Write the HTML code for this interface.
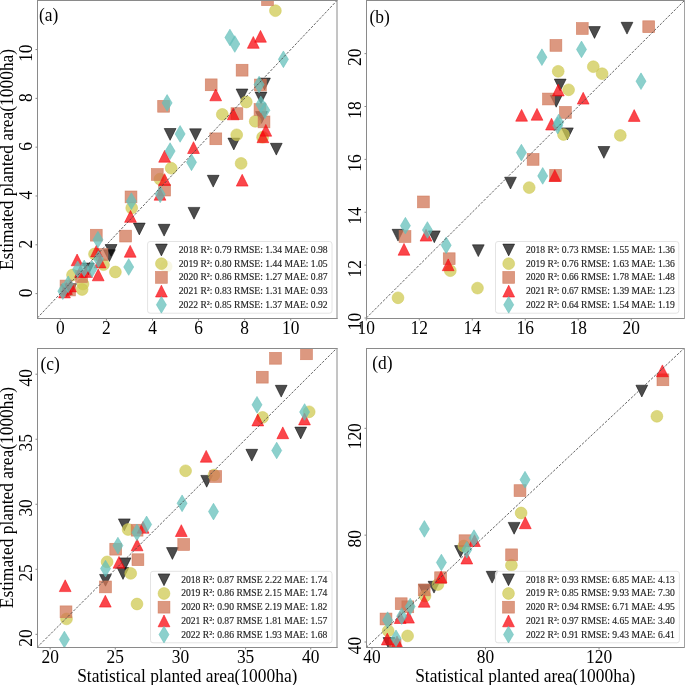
<!DOCTYPE html>
<html><head><meta charset="utf-8"><title>Scatter plots</title>
<style>
html,body{margin:0;padding:0;background:#fff;}
body{width:685px;height:685px;overflow:hidden;}
svg{display:block;font-family:"Liberation Serif", serif;will-change:transform;}
</style></head><body>
<svg width="685" height="685" viewBox="0 0 685 685">
<style>text{stroke:none;}text.lg{fill:#222;stroke:#222;stroke-width:0.15px;}</style>
<rect width="685" height="685" fill="#fff"/>
<defs>
<clipPath id="clipa"><rect x="37.50" y="0.50" width="299.50" height="318.00"/></clipPath>
<clipPath id="clipb"><rect x="366.50" y="0.50" width="317.50" height="318.00"/></clipPath>
<clipPath id="clipc"><rect x="37.50" y="348.50" width="299.50" height="299.00"/></clipPath>
<clipPath id="clipd"><rect x="366.50" y="348.50" width="317.50" height="299.00"/></clipPath>
</defs>
<g clip-path="url(#clipa)">
<polygon points="189.60,128.80 201.40,128.80 195.50,140.60" fill="rgb(0,0,0)" fill-opacity="0.700" stroke="rgb(0,0,0)" stroke-opacity="0.700" stroke-width="0.70"/>
<polygon points="236.10,89.00 247.90,89.00 242.00,100.80" fill="rgb(0,0,0)" fill-opacity="0.700" stroke="rgb(0,0,0)" stroke-opacity="0.700" stroke-width="0.70"/>
<polygon points="258.60,78.10 270.40,78.10 264.50,89.90" fill="rgb(0,0,0)" fill-opacity="0.700" stroke="rgb(0,0,0)" stroke-opacity="0.700" stroke-width="0.70"/>
<polygon points="255.10,92.10 266.90,92.10 261.00,103.90" fill="rgb(0,0,0)" fill-opacity="0.700" stroke="rgb(0,0,0)" stroke-opacity="0.700" stroke-width="0.70"/>
<polygon points="255.60,111.60 267.40,111.60 261.50,123.40" fill="rgb(0,0,0)" fill-opacity="0.700" stroke="rgb(0,0,0)" stroke-opacity="0.700" stroke-width="0.70"/>
<polygon points="227.90,138.10 239.70,138.10 233.80,149.90" fill="rgb(0,0,0)" fill-opacity="0.700" stroke="rgb(0,0,0)" stroke-opacity="0.700" stroke-width="0.70"/>
<polygon points="207.30,175.30 219.10,175.30 213.20,187.10" fill="rgb(0,0,0)" fill-opacity="0.700" stroke="rgb(0,0,0)" stroke-opacity="0.700" stroke-width="0.70"/>
<polygon points="270.40,143.30 282.20,143.30 276.30,155.10" fill="rgb(0,0,0)" fill-opacity="0.700" stroke="rgb(0,0,0)" stroke-opacity="0.700" stroke-width="0.70"/>
<polygon points="188.10,207.40 199.90,207.40 194.00,219.20" fill="rgb(0,0,0)" fill-opacity="0.700" stroke="rgb(0,0,0)" stroke-opacity="0.700" stroke-width="0.70"/>
<polygon points="164.20,128.50 176.00,128.50 170.10,140.30" fill="rgb(0,0,0)" fill-opacity="0.700" stroke="rgb(0,0,0)" stroke-opacity="0.700" stroke-width="0.70"/>
<polygon points="133.40,223.10 145.20,223.10 139.30,234.90" fill="rgb(0,0,0)" fill-opacity="0.700" stroke="rgb(0,0,0)" stroke-opacity="0.700" stroke-width="0.70"/>
<polygon points="158.20,224.30 170.00,224.30 164.10,236.10" fill="rgb(0,0,0)" fill-opacity="0.700" stroke="rgb(0,0,0)" stroke-opacity="0.700" stroke-width="0.70"/>
<polygon points="105.20,244.50 117.00,244.50 111.10,256.30" fill="rgb(0,0,0)" fill-opacity="0.700" stroke="rgb(0,0,0)" stroke-opacity="0.700" stroke-width="0.70"/>
<polygon points="103.50,249.70 115.30,249.70 109.40,261.50" fill="rgb(0,0,0)" fill-opacity="0.700" stroke="rgb(0,0,0)" stroke-opacity="0.700" stroke-width="0.70"/>
<polygon points="82.40,263.10 94.20,263.10 88.30,274.90" fill="rgb(0,0,0)" fill-opacity="0.700" stroke="rgb(0,0,0)" stroke-opacity="0.700" stroke-width="0.70"/>
<polygon points="60.80,284.80 72.60,284.80 66.70,296.60" fill="rgb(0,0,0)" fill-opacity="0.700" stroke="rgb(0,0,0)" stroke-opacity="0.700" stroke-width="0.70"/>
<polygon points="64.70,283.70 76.50,283.70 70.60,295.50" fill="rgb(0,0,0)" fill-opacity="0.700" stroke="rgb(0,0,0)" stroke-opacity="0.700" stroke-width="0.70"/>
<circle cx="275.40" cy="10.70" r="5.90" fill="rgb(207,202,83)" fill-opacity="0.750" stroke="rgb(207,202,83)" stroke-opacity="0.750" stroke-width="0.70"/>
<circle cx="246.30" cy="102.00" r="5.90" fill="rgb(207,202,83)" fill-opacity="0.750" stroke="rgb(207,202,83)" stroke-opacity="0.750" stroke-width="0.70"/>
<circle cx="222.30" cy="114.40" r="5.90" fill="rgb(207,202,83)" fill-opacity="0.750" stroke="rgb(207,202,83)" stroke-opacity="0.750" stroke-width="0.70"/>
<circle cx="255.20" cy="121.30" r="5.90" fill="rgb(207,202,83)" fill-opacity="0.750" stroke="rgb(207,202,83)" stroke-opacity="0.750" stroke-width="0.70"/>
<circle cx="236.70" cy="134.80" r="5.90" fill="rgb(207,202,83)" fill-opacity="0.750" stroke="rgb(207,202,83)" stroke-opacity="0.750" stroke-width="0.70"/>
<circle cx="241.10" cy="163.40" r="5.90" fill="rgb(207,202,83)" fill-opacity="0.750" stroke="rgb(207,202,83)" stroke-opacity="0.750" stroke-width="0.70"/>
<circle cx="262.60" cy="137.20" r="5.90" fill="rgb(207,202,83)" fill-opacity="0.750" stroke="rgb(207,202,83)" stroke-opacity="0.750" stroke-width="0.70"/>
<circle cx="171.20" cy="168.20" r="5.90" fill="rgb(207,202,83)" fill-opacity="0.750" stroke="rgb(207,202,83)" stroke-opacity="0.750" stroke-width="0.70"/>
<circle cx="159.90" cy="179.10" r="5.90" fill="rgb(207,202,83)" fill-opacity="0.750" stroke="rgb(207,202,83)" stroke-opacity="0.750" stroke-width="0.70"/>
<circle cx="131.70" cy="208.00" r="5.90" fill="rgb(207,202,83)" fill-opacity="0.750" stroke="rgb(207,202,83)" stroke-opacity="0.750" stroke-width="0.70"/>
<circle cx="115.40" cy="272.00" r="5.90" fill="rgb(207,202,83)" fill-opacity="0.750" stroke="rgb(207,202,83)" stroke-opacity="0.750" stroke-width="0.70"/>
<circle cx="94.50" cy="254.00" r="5.90" fill="rgb(207,202,83)" fill-opacity="0.750" stroke="rgb(207,202,83)" stroke-opacity="0.750" stroke-width="0.70"/>
<circle cx="103.50" cy="264.70" r="5.90" fill="rgb(207,202,83)" fill-opacity="0.750" stroke="rgb(207,202,83)" stroke-opacity="0.750" stroke-width="0.70"/>
<circle cx="72.50" cy="275.00" r="5.90" fill="rgb(207,202,83)" fill-opacity="0.750" stroke="rgb(207,202,83)" stroke-opacity="0.750" stroke-width="0.70"/>
<circle cx="83.00" cy="284.00" r="5.90" fill="rgb(207,202,83)" fill-opacity="0.750" stroke="rgb(207,202,83)" stroke-opacity="0.750" stroke-width="0.70"/>
<circle cx="82.10" cy="289.50" r="5.90" fill="rgb(207,202,83)" fill-opacity="0.750" stroke="rgb(207,202,83)" stroke-opacity="0.750" stroke-width="0.70"/>
<circle cx="166.20" cy="266.50" r="5.90" fill="rgb(207,202,83)" fill-opacity="0.750" stroke="rgb(207,202,83)" stroke-opacity="0.750" stroke-width="0.70"/>
<rect x="261.60" y="-6.20" width="11.80" height="11.80" fill="rgb(208,118,86)" fill-opacity="0.750" stroke="rgb(208,118,86)" stroke-opacity="0.750" stroke-width="0.70"/>
<rect x="236.20" y="64.30" width="11.80" height="11.80" fill="rgb(208,118,86)" fill-opacity="0.750" stroke="rgb(208,118,86)" stroke-opacity="0.750" stroke-width="0.70"/>
<rect x="205.30" y="78.90" width="11.80" height="11.80" fill="rgb(208,118,86)" fill-opacity="0.750" stroke="rgb(208,118,86)" stroke-opacity="0.750" stroke-width="0.70"/>
<rect x="254.50" y="79.10" width="11.80" height="11.80" fill="rgb(208,118,86)" fill-opacity="0.750" stroke="rgb(208,118,86)" stroke-opacity="0.750" stroke-width="0.70"/>
<rect x="254.10" y="103.60" width="11.80" height="11.80" fill="rgb(208,118,86)" fill-opacity="0.750" stroke="rgb(208,118,86)" stroke-opacity="0.750" stroke-width="0.70"/>
<rect x="258.10" y="116.00" width="11.80" height="11.80" fill="rgb(208,118,86)" fill-opacity="0.750" stroke="rgb(208,118,86)" stroke-opacity="0.750" stroke-width="0.70"/>
<rect x="231.00" y="107.70" width="11.80" height="11.80" fill="rgb(208,118,86)" fill-opacity="0.750" stroke="rgb(208,118,86)" stroke-opacity="0.750" stroke-width="0.70"/>
<rect x="209.90" y="132.90" width="11.80" height="11.80" fill="rgb(208,118,86)" fill-opacity="0.750" stroke="rgb(208,118,86)" stroke-opacity="0.750" stroke-width="0.70"/>
<rect x="151.40" y="168.60" width="11.80" height="11.80" fill="rgb(208,118,86)" fill-opacity="0.750" stroke="rgb(208,118,86)" stroke-opacity="0.750" stroke-width="0.70"/>
<rect x="158.70" y="184.20" width="11.80" height="11.80" fill="rgb(208,118,86)" fill-opacity="0.750" stroke="rgb(208,118,86)" stroke-opacity="0.750" stroke-width="0.70"/>
<rect x="125.10" y="191.00" width="11.80" height="11.80" fill="rgb(208,118,86)" fill-opacity="0.750" stroke="rgb(208,118,86)" stroke-opacity="0.750" stroke-width="0.70"/>
<rect x="157.70" y="100.40" width="11.80" height="11.80" fill="rgb(208,118,86)" fill-opacity="0.750" stroke="rgb(208,118,86)" stroke-opacity="0.750" stroke-width="0.70"/>
<rect x="119.70" y="230.20" width="11.80" height="11.80" fill="rgb(208,118,86)" fill-opacity="0.750" stroke="rgb(208,118,86)" stroke-opacity="0.750" stroke-width="0.70"/>
<rect x="90.40" y="229.30" width="11.80" height="11.80" fill="rgb(208,118,86)" fill-opacity="0.750" stroke="rgb(208,118,86)" stroke-opacity="0.750" stroke-width="0.70"/>
<rect x="96.10" y="248.60" width="11.80" height="11.80" fill="rgb(208,118,86)" fill-opacity="0.750" stroke="rgb(208,118,86)" stroke-opacity="0.750" stroke-width="0.70"/>
<rect x="75.70" y="270.60" width="11.80" height="11.80" fill="rgb(208,118,86)" fill-opacity="0.750" stroke="rgb(208,118,86)" stroke-opacity="0.750" stroke-width="0.70"/>
<rect x="60.10" y="280.10" width="11.80" height="11.80" fill="rgb(208,118,86)" fill-opacity="0.750" stroke="rgb(208,118,86)" stroke-opacity="0.750" stroke-width="0.70"/>
<rect x="63.60" y="284.10" width="11.80" height="11.80" fill="rgb(208,118,86)" fill-opacity="0.750" stroke="rgb(208,118,86)" stroke-opacity="0.750" stroke-width="0.70"/>
<polygon points="260.50,30.40 254.60,42.20 266.40,42.20" fill="rgb(248,8,15)" fill-opacity="0.750" stroke="rgb(248,8,15)" stroke-opacity="0.750" stroke-width="0.70"/>
<polygon points="253.30,36.50 247.40,48.30 259.20,48.30" fill="rgb(248,8,15)" fill-opacity="0.750" stroke="rgb(248,8,15)" stroke-opacity="0.750" stroke-width="0.70"/>
<polygon points="215.70,89.00 209.80,100.80 221.60,100.80" fill="rgb(248,8,15)" fill-opacity="0.750" stroke="rgb(248,8,15)" stroke-opacity="0.750" stroke-width="0.70"/>
<polygon points="233.20,108.00 227.30,119.80 239.10,119.80" fill="rgb(248,8,15)" fill-opacity="0.750" stroke="rgb(248,8,15)" stroke-opacity="0.750" stroke-width="0.70"/>
<polygon points="193.50,141.70 187.60,153.50 199.40,153.50" fill="rgb(248,8,15)" fill-opacity="0.750" stroke="rgb(248,8,15)" stroke-opacity="0.750" stroke-width="0.70"/>
<polygon points="242.20,174.30 236.30,186.10 248.10,186.10" fill="rgb(248,8,15)" fill-opacity="0.750" stroke="rgb(248,8,15)" stroke-opacity="0.750" stroke-width="0.70"/>
<polygon points="265.80,124.40 259.90,136.20 271.70,136.20" fill="rgb(248,8,15)" fill-opacity="0.750" stroke="rgb(248,8,15)" stroke-opacity="0.750" stroke-width="0.70"/>
<polygon points="262.90,130.90 257.00,142.70 268.80,142.70" fill="rgb(248,8,15)" fill-opacity="0.750" stroke="rgb(248,8,15)" stroke-opacity="0.750" stroke-width="0.70"/>
<polygon points="164.60,150.40 158.70,162.20 170.50,162.20" fill="rgb(248,8,15)" fill-opacity="0.750" stroke="rgb(248,8,15)" stroke-opacity="0.750" stroke-width="0.70"/>
<polygon points="164.60,173.70 158.70,185.50 170.50,185.50" fill="rgb(248,8,15)" fill-opacity="0.750" stroke="rgb(248,8,15)" stroke-opacity="0.750" stroke-width="0.70"/>
<polygon points="160.00,188.40 154.10,200.20 165.90,200.20" fill="rgb(248,8,15)" fill-opacity="0.750" stroke="rgb(248,8,15)" stroke-opacity="0.750" stroke-width="0.70"/>
<polygon points="130.50,210.50 124.60,222.30 136.40,222.30" fill="rgb(248,8,15)" fill-opacity="0.750" stroke="rgb(248,8,15)" stroke-opacity="0.750" stroke-width="0.70"/>
<polygon points="130.20,245.40 124.30,257.20 136.10,257.20" fill="rgb(248,8,15)" fill-opacity="0.750" stroke="rgb(248,8,15)" stroke-opacity="0.750" stroke-width="0.70"/>
<polygon points="96.50,245.10 90.60,256.90 102.40,256.90" fill="rgb(248,8,15)" fill-opacity="0.750" stroke="rgb(248,8,15)" stroke-opacity="0.750" stroke-width="0.70"/>
<polygon points="100.10,256.10 94.20,267.90 106.00,267.90" fill="rgb(248,8,15)" fill-opacity="0.750" stroke="rgb(248,8,15)" stroke-opacity="0.750" stroke-width="0.70"/>
<polygon points="98.20,269.00 92.30,280.80 104.10,280.80" fill="rgb(248,8,15)" fill-opacity="0.750" stroke="rgb(248,8,15)" stroke-opacity="0.750" stroke-width="0.70"/>
<polygon points="77.10,254.00 71.20,265.80 83.00,265.80" fill="rgb(248,8,15)" fill-opacity="0.750" stroke="rgb(248,8,15)" stroke-opacity="0.750" stroke-width="0.70"/>
<polygon points="80.50,265.60 74.60,277.40 86.40,277.40" fill="rgb(248,8,15)" fill-opacity="0.750" stroke="rgb(248,8,15)" stroke-opacity="0.750" stroke-width="0.70"/>
<polygon points="86.50,265.60 80.60,277.40 92.40,277.40" fill="rgb(248,8,15)" fill-opacity="0.750" stroke="rgb(248,8,15)" stroke-opacity="0.750" stroke-width="0.70"/>
<polygon points="64.50,286.10 58.60,297.90 70.40,297.90" fill="rgb(248,8,15)" fill-opacity="0.750" stroke="rgb(248,8,15)" stroke-opacity="0.750" stroke-width="0.70"/>
<polygon points="70.50,280.10 64.60,291.90 76.40,291.90" fill="rgb(248,8,15)" fill-opacity="0.750" stroke="rgb(248,8,15)" stroke-opacity="0.750" stroke-width="0.70"/>
<polygon points="66.50,282.60 60.60,294.40 72.40,294.40" fill="rgb(248,8,15)" fill-opacity="0.750" stroke="rgb(248,8,15)" stroke-opacity="0.750" stroke-width="0.70"/>
<polygon points="229.90,29.16 234.91,37.50 229.90,45.84 224.89,37.50" fill="rgb(102,192,187)" fill-opacity="0.750" stroke="rgb(102,192,187)" stroke-opacity="0.750" stroke-width="0.70"/>
<polygon points="234.80,35.66 239.81,44.00 234.80,52.34 229.79,44.00" fill="rgb(102,192,187)" fill-opacity="0.750" stroke="rgb(102,192,187)" stroke-opacity="0.750" stroke-width="0.70"/>
<polygon points="283.40,50.96 288.41,59.30 283.40,67.64 278.39,59.30" fill="rgb(102,192,187)" fill-opacity="0.750" stroke="rgb(102,192,187)" stroke-opacity="0.750" stroke-width="0.70"/>
<polygon points="259.10,76.26 264.11,84.60 259.10,92.94 254.09,84.60" fill="rgb(102,192,187)" fill-opacity="0.750" stroke="rgb(102,192,187)" stroke-opacity="0.750" stroke-width="0.70"/>
<polygon points="260.80,96.06 265.81,104.40 260.80,112.74 255.79,104.40" fill="rgb(102,192,187)" fill-opacity="0.750" stroke="rgb(102,192,187)" stroke-opacity="0.750" stroke-width="0.70"/>
<polygon points="264.90,101.96 269.91,110.30 264.90,118.64 259.89,110.30" fill="rgb(102,192,187)" fill-opacity="0.750" stroke="rgb(102,192,187)" stroke-opacity="0.750" stroke-width="0.70"/>
<polygon points="191.50,153.96 196.51,162.30 191.50,170.64 186.49,162.30" fill="rgb(102,192,187)" fill-opacity="0.750" stroke="rgb(102,192,187)" stroke-opacity="0.750" stroke-width="0.70"/>
<polygon points="170.10,142.76 175.11,151.10 170.10,159.44 165.09,151.10" fill="rgb(102,192,187)" fill-opacity="0.750" stroke="rgb(102,192,187)" stroke-opacity="0.750" stroke-width="0.70"/>
<polygon points="160.20,185.96 165.21,194.30 160.20,202.64 155.19,194.30" fill="rgb(102,192,187)" fill-opacity="0.750" stroke="rgb(102,192,187)" stroke-opacity="0.750" stroke-width="0.70"/>
<polygon points="131.40,192.86 136.41,201.20 131.40,209.54 126.39,201.20" fill="rgb(102,192,187)" fill-opacity="0.750" stroke="rgb(102,192,187)" stroke-opacity="0.750" stroke-width="0.70"/>
<polygon points="167.10,94.56 172.11,102.90 167.10,111.24 162.09,102.90" fill="rgb(102,192,187)" fill-opacity="0.750" stroke="rgb(102,192,187)" stroke-opacity="0.750" stroke-width="0.70"/>
<polygon points="180.10,125.56 185.11,133.90 180.10,142.24 175.09,133.90" fill="rgb(102,192,187)" fill-opacity="0.750" stroke="rgb(102,192,187)" stroke-opacity="0.750" stroke-width="0.70"/>
<polygon points="128.70,258.66 133.71,267.00 128.70,275.34 123.69,267.00" fill="rgb(102,192,187)" fill-opacity="0.750" stroke="rgb(102,192,187)" stroke-opacity="0.750" stroke-width="0.70"/>
<polygon points="97.90,231.36 102.91,239.70 97.90,248.04 92.89,239.70" fill="rgb(102,192,187)" fill-opacity="0.750" stroke="rgb(102,192,187)" stroke-opacity="0.750" stroke-width="0.70"/>
<polygon points="98.50,250.76 103.51,259.10 98.50,267.44 93.49,259.10" fill="rgb(102,192,187)" fill-opacity="0.750" stroke="rgb(102,192,187)" stroke-opacity="0.750" stroke-width="0.70"/>
<polygon points="92.00,260.66 97.01,269.00 92.00,277.34 86.99,269.00" fill="rgb(102,192,187)" fill-opacity="0.750" stroke="rgb(102,192,187)" stroke-opacity="0.750" stroke-width="0.70"/>
<polygon points="77.60,261.06 82.61,269.40 77.60,277.74 72.59,269.40" fill="rgb(102,192,187)" fill-opacity="0.750" stroke="rgb(102,192,187)" stroke-opacity="0.750" stroke-width="0.70"/>
<polygon points="84.20,260.06 89.21,268.40 84.20,276.74 79.19,268.40" fill="rgb(102,192,187)" fill-opacity="0.750" stroke="rgb(102,192,187)" stroke-opacity="0.750" stroke-width="0.70"/>
<polygon points="62.80,282.86 67.81,291.20 62.80,299.54 57.79,291.20" fill="rgb(102,192,187)" fill-opacity="0.750" stroke="rgb(102,192,187)" stroke-opacity="0.750" stroke-width="0.70"/>
<polygon points="68.20,275.96 73.21,284.30 68.20,292.64 63.19,284.30" fill="rgb(102,192,187)" fill-opacity="0.750" stroke="rgb(102,192,187)" stroke-opacity="0.750" stroke-width="0.70"/>
<line x1="37.30" y1="318.00" x2="336.80" y2="0.75" stroke="#484848" stroke-width="0.85" stroke-dasharray="2.5 1.45"/>
</g>
<rect x="147.60" y="241.50" width="184.40" height="71.70" rx="2.5" ry="2.5" fill="#fff" fill-opacity="0.8" stroke="#e4e4e4" stroke-width="1"/>
<polygon points="155.50,244.10 167.30,244.10 161.40,255.90" fill="rgb(0,0,0)" fill-opacity="0.700" stroke="rgb(0,0,0)" stroke-opacity="0.700" stroke-width="0.70"/>
<text class="lg" transform="translate(178.80,252.90) scale(1,1.030)" font-size="9.62">2018 R²: 0.79 RMSE: 1.34 MAE: 0.98</text>
<circle cx="161.40" cy="263.70" r="5.90" fill="rgb(207,202,83)" fill-opacity="0.750" stroke="rgb(207,202,83)" stroke-opacity="0.750" stroke-width="0.70"/>
<text class="lg" transform="translate(178.80,266.60) scale(1,1.030)" font-size="9.62">2019 R²: 0.80 RMSE: 1.44 MAE: 1.05</text>
<rect x="155.50" y="271.50" width="11.80" height="11.80" fill="rgb(208,118,86)" fill-opacity="0.750" stroke="rgb(208,118,86)" stroke-opacity="0.750" stroke-width="0.70"/>
<text class="lg" transform="translate(178.80,280.30) scale(1,1.030)" font-size="9.62">2020 R²: 0.86 RMSE: 1.27 MAE: 0.87</text>
<polygon points="161.40,285.20 155.50,297.00 167.30,297.00" fill="rgb(248,8,15)" fill-opacity="0.750" stroke="rgb(248,8,15)" stroke-opacity="0.750" stroke-width="0.70"/>
<text class="lg" transform="translate(178.80,294.00) scale(1,1.030)" font-size="9.62">2021 R²: 0.83 RMSE: 1.31 MAE: 0.93</text>
<polygon points="161.40,296.46 166.41,304.80 161.40,313.14 156.39,304.80" fill="rgb(102,192,187)" fill-opacity="0.750" stroke="rgb(102,192,187)" stroke-opacity="0.750" stroke-width="0.70"/>
<text class="lg" transform="translate(178.80,307.70) scale(1,1.030)" font-size="9.62">2022 R²: 0.85 RMSE: 1.37 MAE: 0.92</text>
<path d="M37.00 0.50H337.50M37.50 0.50V319.00M37.00 318.50H337.50" fill="none" stroke="#8a8a8a" stroke-width="1"/>
<line x1="337.00" y1="0.00" x2="337.00" y2="319.00" stroke="#8a8a8a" stroke-width="1"/>
<line x1="60.34" y1="318.50" x2="60.34" y2="320.50" stroke="#8a8a8a" stroke-width="1"/>
<text transform="translate(60.34,333.70) scale(1,1.030)" font-size="17.40" text-anchor="middle">0</text>
<line x1="35.50" y1="293.60" x2="37.50" y2="293.60" stroke="#8a8a8a" stroke-width="1"/>
<text transform="translate(31.60,288.50) rotate(-90) scale(1,1.030)" font-size="17.40" text-anchor="end">0</text>
<line x1="106.42" y1="318.50" x2="106.42" y2="320.50" stroke="#8a8a8a" stroke-width="1"/>
<text transform="translate(106.42,333.70) scale(1,1.030)" font-size="17.40" text-anchor="middle">2</text>
<line x1="35.50" y1="244.79" x2="37.50" y2="244.79" stroke="#8a8a8a" stroke-width="1"/>
<text transform="translate(31.60,239.69) rotate(-90) scale(1,1.030)" font-size="17.40" text-anchor="end">2</text>
<line x1="152.49" y1="318.50" x2="152.49" y2="320.50" stroke="#8a8a8a" stroke-width="1"/>
<text transform="translate(152.49,333.70) scale(1,1.030)" font-size="17.40" text-anchor="middle">4</text>
<line x1="35.50" y1="195.98" x2="37.50" y2="195.98" stroke="#8a8a8a" stroke-width="1"/>
<text transform="translate(31.60,190.88) rotate(-90) scale(1,1.030)" font-size="17.40" text-anchor="end">4</text>
<line x1="198.57" y1="318.50" x2="198.57" y2="320.50" stroke="#8a8a8a" stroke-width="1"/>
<text transform="translate(198.57,333.70) scale(1,1.030)" font-size="17.40" text-anchor="middle">6</text>
<line x1="35.50" y1="147.17" x2="37.50" y2="147.17" stroke="#8a8a8a" stroke-width="1"/>
<text transform="translate(31.60,142.07) rotate(-90) scale(1,1.030)" font-size="17.40" text-anchor="end">6</text>
<line x1="244.65" y1="318.50" x2="244.65" y2="320.50" stroke="#8a8a8a" stroke-width="1"/>
<text transform="translate(244.65,333.70) scale(1,1.030)" font-size="17.40" text-anchor="middle">8</text>
<line x1="35.50" y1="98.37" x2="37.50" y2="98.37" stroke="#8a8a8a" stroke-width="1"/>
<text transform="translate(31.60,93.27) rotate(-90) scale(1,1.030)" font-size="17.40" text-anchor="end">8</text>
<line x1="290.72" y1="318.50" x2="290.72" y2="320.50" stroke="#8a8a8a" stroke-width="1"/>
<text transform="translate(290.72,333.70) scale(1,1.030)" font-size="17.40" text-anchor="middle">10</text>
<line x1="35.50" y1="49.56" x2="37.50" y2="49.56" stroke="#8a8a8a" stroke-width="1"/>
<text transform="translate(31.60,44.46) rotate(-90) scale(1,1.030)" font-size="17.40" text-anchor="end">10</text>
<text transform="translate(39.00,21.40) scale(1,1.030)" font-size="17.40">(a)</text>
<g clip-path="url(#clipb)">
<polygon points="588.60,26.60 600.40,26.60 594.50,38.40" fill="rgb(0,0,0)" fill-opacity="0.700" stroke="rgb(0,0,0)" stroke-opacity="0.700" stroke-width="0.70"/>
<polygon points="621.10,22.30 632.90,22.30 627.00,34.10" fill="rgb(0,0,0)" fill-opacity="0.700" stroke="rgb(0,0,0)" stroke-opacity="0.700" stroke-width="0.70"/>
<polygon points="554.30,79.10 566.10,79.10 560.20,90.90" fill="rgb(0,0,0)" fill-opacity="0.700" stroke="rgb(0,0,0)" stroke-opacity="0.700" stroke-width="0.70"/>
<polygon points="550.30,95.40 562.10,95.40 556.20,107.20" fill="rgb(0,0,0)" fill-opacity="0.700" stroke="rgb(0,0,0)" stroke-opacity="0.700" stroke-width="0.70"/>
<polygon points="561.50,127.90 573.30,127.90 567.40,139.70" fill="rgb(0,0,0)" fill-opacity="0.700" stroke="rgb(0,0,0)" stroke-opacity="0.700" stroke-width="0.70"/>
<polygon points="598.00,146.50 609.80,146.50 603.90,158.30" fill="rgb(0,0,0)" fill-opacity="0.700" stroke="rgb(0,0,0)" stroke-opacity="0.700" stroke-width="0.70"/>
<polygon points="504.60,177.20 516.40,177.20 510.50,189.00" fill="rgb(0,0,0)" fill-opacity="0.700" stroke="rgb(0,0,0)" stroke-opacity="0.700" stroke-width="0.70"/>
<polygon points="392.10,229.30 403.90,229.30 398.00,241.10" fill="rgb(0,0,0)" fill-opacity="0.700" stroke="rgb(0,0,0)" stroke-opacity="0.700" stroke-width="0.70"/>
<polygon points="428.40,230.90 440.20,230.90 434.30,242.70" fill="rgb(0,0,0)" fill-opacity="0.700" stroke="rgb(0,0,0)" stroke-opacity="0.700" stroke-width="0.70"/>
<polygon points="472.40,244.80 484.20,244.80 478.30,256.60" fill="rgb(0,0,0)" fill-opacity="0.700" stroke="rgb(0,0,0)" stroke-opacity="0.700" stroke-width="0.70"/>
<circle cx="558.20" cy="71.30" r="5.90" fill="rgb(207,202,83)" fill-opacity="0.750" stroke="rgb(207,202,83)" stroke-opacity="0.750" stroke-width="0.70"/>
<circle cx="593.30" cy="66.70" r="5.90" fill="rgb(207,202,83)" fill-opacity="0.750" stroke="rgb(207,202,83)" stroke-opacity="0.750" stroke-width="0.70"/>
<circle cx="602.10" cy="73.70" r="5.90" fill="rgb(207,202,83)" fill-opacity="0.750" stroke="rgb(207,202,83)" stroke-opacity="0.750" stroke-width="0.70"/>
<circle cx="568.60" cy="89.80" r="5.90" fill="rgb(207,202,83)" fill-opacity="0.750" stroke="rgb(207,202,83)" stroke-opacity="0.750" stroke-width="0.70"/>
<circle cx="563.50" cy="134.50" r="5.90" fill="rgb(207,202,83)" fill-opacity="0.750" stroke="rgb(207,202,83)" stroke-opacity="0.750" stroke-width="0.70"/>
<circle cx="620.30" cy="135.40" r="5.90" fill="rgb(207,202,83)" fill-opacity="0.750" stroke="rgb(207,202,83)" stroke-opacity="0.750" stroke-width="0.70"/>
<circle cx="529.20" cy="187.60" r="5.90" fill="rgb(207,202,83)" fill-opacity="0.750" stroke="rgb(207,202,83)" stroke-opacity="0.750" stroke-width="0.70"/>
<circle cx="450.30" cy="270.70" r="5.90" fill="rgb(207,202,83)" fill-opacity="0.750" stroke="rgb(207,202,83)" stroke-opacity="0.750" stroke-width="0.70"/>
<circle cx="477.50" cy="288.10" r="5.90" fill="rgb(207,202,83)" fill-opacity="0.750" stroke="rgb(207,202,83)" stroke-opacity="0.750" stroke-width="0.70"/>
<circle cx="398.00" cy="297.80" r="5.90" fill="rgb(207,202,83)" fill-opacity="0.750" stroke="rgb(207,202,83)" stroke-opacity="0.750" stroke-width="0.70"/>
<rect x="576.40" y="22.60" width="11.80" height="11.80" fill="rgb(208,118,86)" fill-opacity="0.750" stroke="rgb(208,118,86)" stroke-opacity="0.750" stroke-width="0.70"/>
<rect x="642.80" y="20.80" width="11.80" height="11.80" fill="rgb(208,118,86)" fill-opacity="0.750" stroke="rgb(208,118,86)" stroke-opacity="0.750" stroke-width="0.70"/>
<rect x="550.00" y="39.50" width="11.80" height="11.80" fill="rgb(208,118,86)" fill-opacity="0.750" stroke="rgb(208,118,86)" stroke-opacity="0.750" stroke-width="0.70"/>
<rect x="542.60" y="93.10" width="11.80" height="11.80" fill="rgb(208,118,86)" fill-opacity="0.750" stroke="rgb(208,118,86)" stroke-opacity="0.750" stroke-width="0.70"/>
<rect x="559.50" y="106.50" width="11.80" height="11.80" fill="rgb(208,118,86)" fill-opacity="0.750" stroke="rgb(208,118,86)" stroke-opacity="0.750" stroke-width="0.70"/>
<rect x="527.20" y="153.50" width="11.80" height="11.80" fill="rgb(208,118,86)" fill-opacity="0.750" stroke="rgb(208,118,86)" stroke-opacity="0.750" stroke-width="0.70"/>
<rect x="549.70" y="169.40" width="11.80" height="11.80" fill="rgb(208,118,86)" fill-opacity="0.750" stroke="rgb(208,118,86)" stroke-opacity="0.750" stroke-width="0.70"/>
<rect x="417.50" y="196.00" width="11.80" height="11.80" fill="rgb(208,118,86)" fill-opacity="0.750" stroke="rgb(208,118,86)" stroke-opacity="0.750" stroke-width="0.70"/>
<rect x="399.10" y="230.60" width="11.80" height="11.80" fill="rgb(208,118,86)" fill-opacity="0.750" stroke="rgb(208,118,86)" stroke-opacity="0.750" stroke-width="0.70"/>
<rect x="443.30" y="252.80" width="11.80" height="11.80" fill="rgb(208,118,86)" fill-opacity="0.750" stroke="rgb(208,118,86)" stroke-opacity="0.750" stroke-width="0.70"/>
<polygon points="558.30,84.10 552.40,95.90 564.20,95.90" fill="rgb(248,8,15)" fill-opacity="0.750" stroke="rgb(248,8,15)" stroke-opacity="0.750" stroke-width="0.70"/>
<polygon points="583.20,92.30 577.30,104.10 589.10,104.10" fill="rgb(248,8,15)" fill-opacity="0.750" stroke="rgb(248,8,15)" stroke-opacity="0.750" stroke-width="0.70"/>
<polygon points="521.60,109.40 515.70,121.20 527.50,121.20" fill="rgb(248,8,15)" fill-opacity="0.750" stroke="rgb(248,8,15)" stroke-opacity="0.750" stroke-width="0.70"/>
<polygon points="537.00,108.40 531.10,120.20 542.90,120.20" fill="rgb(248,8,15)" fill-opacity="0.750" stroke="rgb(248,8,15)" stroke-opacity="0.750" stroke-width="0.70"/>
<polygon points="551.50,118.20 545.60,130.00 557.40,130.00" fill="rgb(248,8,15)" fill-opacity="0.750" stroke="rgb(248,8,15)" stroke-opacity="0.750" stroke-width="0.70"/>
<polygon points="634.20,109.60 628.30,121.40 640.10,121.40" fill="rgb(248,8,15)" fill-opacity="0.750" stroke="rgb(248,8,15)" stroke-opacity="0.750" stroke-width="0.70"/>
<polygon points="554.80,169.70 548.90,181.50 560.70,181.50" fill="rgb(248,8,15)" fill-opacity="0.750" stroke="rgb(248,8,15)" stroke-opacity="0.750" stroke-width="0.70"/>
<polygon points="404.00,243.40 398.10,255.20 409.90,255.20" fill="rgb(248,8,15)" fill-opacity="0.750" stroke="rgb(248,8,15)" stroke-opacity="0.750" stroke-width="0.70"/>
<polygon points="426.00,229.30 420.10,241.10 431.90,241.10" fill="rgb(248,8,15)" fill-opacity="0.750" stroke="rgb(248,8,15)" stroke-opacity="0.750" stroke-width="0.70"/>
<polygon points="448.20,258.90 442.30,270.70 454.10,270.70" fill="rgb(248,8,15)" fill-opacity="0.750" stroke="rgb(248,8,15)" stroke-opacity="0.750" stroke-width="0.70"/>
<polygon points="581.50,41.06 586.51,49.40 581.50,57.74 576.49,49.40" fill="rgb(102,192,187)" fill-opacity="0.750" stroke="rgb(102,192,187)" stroke-opacity="0.750" stroke-width="0.70"/>
<polygon points="541.90,48.86 546.91,57.20 541.90,65.54 536.89,57.20" fill="rgb(102,192,187)" fill-opacity="0.750" stroke="rgb(102,192,187)" stroke-opacity="0.750" stroke-width="0.70"/>
<polygon points="641.00,72.86 646.01,81.20 641.00,89.54 635.99,81.20" fill="rgb(102,192,187)" fill-opacity="0.750" stroke="rgb(102,192,187)" stroke-opacity="0.750" stroke-width="0.70"/>
<polygon points="558.60,114.16 563.61,122.50 558.60,130.84 553.59,122.50" fill="rgb(102,192,187)" fill-opacity="0.750" stroke="rgb(102,192,187)" stroke-opacity="0.750" stroke-width="0.70"/>
<polygon points="557.70,117.26 562.71,125.60 557.70,133.94 552.69,125.60" fill="rgb(102,192,187)" fill-opacity="0.750" stroke="rgb(102,192,187)" stroke-opacity="0.750" stroke-width="0.70"/>
<polygon points="521.40,144.26 526.41,152.60 521.40,160.94 516.39,152.60" fill="rgb(102,192,187)" fill-opacity="0.750" stroke="rgb(102,192,187)" stroke-opacity="0.750" stroke-width="0.70"/>
<polygon points="542.70,167.56 547.71,175.90 542.70,184.24 537.69,175.90" fill="rgb(102,192,187)" fill-opacity="0.750" stroke="rgb(102,192,187)" stroke-opacity="0.750" stroke-width="0.70"/>
<polygon points="405.40,217.36 410.41,225.70 405.40,234.04 400.39,225.70" fill="rgb(102,192,187)" fill-opacity="0.750" stroke="rgb(102,192,187)" stroke-opacity="0.750" stroke-width="0.70"/>
<polygon points="427.40,221.66 432.41,230.00 427.40,238.34 422.39,230.00" fill="rgb(102,192,187)" fill-opacity="0.750" stroke="rgb(102,192,187)" stroke-opacity="0.750" stroke-width="0.70"/>
<polygon points="446.20,236.96 451.21,245.30 446.20,253.64 441.19,245.30" fill="rgb(102,192,187)" fill-opacity="0.750" stroke="rgb(102,192,187)" stroke-opacity="0.750" stroke-width="0.70"/>
<line x1="366.30" y1="318.00" x2="684.20" y2="0.75" stroke="#484848" stroke-width="0.85" stroke-dasharray="2.5 1.45"/>
</g>
<rect x="495.50" y="241.50" width="183.30" height="71.70" rx="2.5" ry="2.5" fill="#fff" fill-opacity="0.8" stroke="#e4e4e4" stroke-width="1"/>
<polygon points="502.80,244.10 514.60,244.10 508.70,255.90" fill="rgb(0,0,0)" fill-opacity="0.700" stroke="rgb(0,0,0)" stroke-opacity="0.700" stroke-width="0.70"/>
<text class="lg" transform="translate(525.90,252.90) scale(1,1.030)" font-size="9.62">2018 R²: 0.73 RMSE: 1.55 MAE: 1.36</text>
<circle cx="508.70" cy="263.70" r="5.90" fill="rgb(207,202,83)" fill-opacity="0.750" stroke="rgb(207,202,83)" stroke-opacity="0.750" stroke-width="0.70"/>
<text class="lg" transform="translate(525.90,266.60) scale(1,1.030)" font-size="9.62">2019 R²: 0.76 RMSE: 1.63 MAE: 1.36</text>
<rect x="502.80" y="271.50" width="11.80" height="11.80" fill="rgb(208,118,86)" fill-opacity="0.750" stroke="rgb(208,118,86)" stroke-opacity="0.750" stroke-width="0.70"/>
<text class="lg" transform="translate(525.90,280.30) scale(1,1.030)" font-size="9.62">2020 R²: 0.66 RMSE: 1.78 MAE: 1.48</text>
<polygon points="508.70,285.20 502.80,297.00 514.60,297.00" fill="rgb(248,8,15)" fill-opacity="0.750" stroke="rgb(248,8,15)" stroke-opacity="0.750" stroke-width="0.70"/>
<text class="lg" transform="translate(525.90,294.00) scale(1,1.030)" font-size="9.62">2021 R²: 0.67 RMSE: 1.39 MAE: 1.23</text>
<polygon points="508.70,296.46 513.71,304.80 508.70,313.14 503.69,304.80" fill="rgb(102,192,187)" fill-opacity="0.750" stroke="rgb(102,192,187)" stroke-opacity="0.750" stroke-width="0.70"/>
<text class="lg" transform="translate(525.90,307.70) scale(1,1.030)" font-size="9.62">2022 R²: 0.64 RMSE: 1.54 MAE: 1.19</text>
<path d="M366.00 0.50H684.50M366.50 0.50V319.00M366.00 318.50H684.50" fill="none" stroke="#8a8a8a" stroke-width="1"/>
<line x1="684.50" y1="0.00" x2="684.50" y2="319.00" stroke="#a2a2a2" stroke-width="1"/>
<line x1="366.30" y1="318.50" x2="366.30" y2="320.50" stroke="#8a8a8a" stroke-width="1"/>
<text transform="translate(366.30,333.70) scale(1,1.030)" font-size="17.40" text-anchor="middle">10</text>
<line x1="364.50" y1="318.00" x2="366.50" y2="318.00" stroke="#8a8a8a" stroke-width="1"/>
<text transform="translate(360.60,312.90) rotate(-90) scale(1,1.030)" font-size="17.40" text-anchor="end">10</text>
<line x1="419.28" y1="318.50" x2="419.28" y2="320.50" stroke="#8a8a8a" stroke-width="1"/>
<text transform="translate(419.28,333.70) scale(1,1.030)" font-size="17.40" text-anchor="middle">12</text>
<line x1="364.50" y1="265.12" x2="366.50" y2="265.12" stroke="#8a8a8a" stroke-width="1"/>
<text transform="translate(360.60,260.02) rotate(-90) scale(1,1.030)" font-size="17.40" text-anchor="end">12</text>
<line x1="472.27" y1="318.50" x2="472.27" y2="320.50" stroke="#8a8a8a" stroke-width="1"/>
<text transform="translate(472.27,333.70) scale(1,1.030)" font-size="17.40" text-anchor="middle">14</text>
<line x1="364.50" y1="212.25" x2="366.50" y2="212.25" stroke="#8a8a8a" stroke-width="1"/>
<text transform="translate(360.60,207.15) rotate(-90) scale(1,1.030)" font-size="17.40" text-anchor="end">14</text>
<line x1="525.25" y1="318.50" x2="525.25" y2="320.50" stroke="#8a8a8a" stroke-width="1"/>
<text transform="translate(525.25,333.70) scale(1,1.030)" font-size="17.40" text-anchor="middle">16</text>
<line x1="364.50" y1="159.38" x2="366.50" y2="159.38" stroke="#8a8a8a" stroke-width="1"/>
<text transform="translate(360.60,154.28) rotate(-90) scale(1,1.030)" font-size="17.40" text-anchor="end">16</text>
<line x1="578.23" y1="318.50" x2="578.23" y2="320.50" stroke="#8a8a8a" stroke-width="1"/>
<text transform="translate(578.23,333.70) scale(1,1.030)" font-size="17.40" text-anchor="middle">18</text>
<line x1="364.50" y1="106.50" x2="366.50" y2="106.50" stroke="#8a8a8a" stroke-width="1"/>
<text transform="translate(360.60,101.40) rotate(-90) scale(1,1.030)" font-size="17.40" text-anchor="end">18</text>
<line x1="631.22" y1="318.50" x2="631.22" y2="320.50" stroke="#8a8a8a" stroke-width="1"/>
<text transform="translate(631.22,333.70) scale(1,1.030)" font-size="17.40" text-anchor="middle">20</text>
<line x1="364.50" y1="53.62" x2="366.50" y2="53.62" stroke="#8a8a8a" stroke-width="1"/>
<text transform="translate(360.60,48.52) rotate(-90) scale(1,1.030)" font-size="17.40" text-anchor="end">20</text>
<text transform="translate(369.50,23.30) scale(1,1.030)" font-size="17.40">(b)</text>
<g clip-path="url(#clipc)">
<polygon points="275.30,385.30 287.10,385.30 281.20,397.10" fill="rgb(0,0,0)" fill-opacity="0.700" stroke="rgb(0,0,0)" stroke-opacity="0.700" stroke-width="0.70"/>
<polygon points="294.80,427.10 306.60,427.10 300.70,438.90" fill="rgb(0,0,0)" fill-opacity="0.700" stroke="rgb(0,0,0)" stroke-opacity="0.700" stroke-width="0.70"/>
<polygon points="245.90,449.30 257.70,449.30 251.80,461.10" fill="rgb(0,0,0)" fill-opacity="0.700" stroke="rgb(0,0,0)" stroke-opacity="0.700" stroke-width="0.70"/>
<polygon points="200.80,475.40 212.60,475.40 206.70,487.20" fill="rgb(0,0,0)" fill-opacity="0.700" stroke="rgb(0,0,0)" stroke-opacity="0.700" stroke-width="0.70"/>
<polygon points="166.50,547.60 178.30,547.60 172.40,559.40" fill="rgb(0,0,0)" fill-opacity="0.700" stroke="rgb(0,0,0)" stroke-opacity="0.700" stroke-width="0.70"/>
<polygon points="118.40,518.90 130.20,518.90 124.30,530.70" fill="rgb(0,0,0)" fill-opacity="0.700" stroke="rgb(0,0,0)" stroke-opacity="0.700" stroke-width="0.70"/>
<polygon points="119.20,557.90 131.00,557.90 125.10,569.70" fill="rgb(0,0,0)" fill-opacity="0.700" stroke="rgb(0,0,0)" stroke-opacity="0.700" stroke-width="0.70"/>
<polygon points="117.10,567.60 128.90,567.60 123.00,579.40" fill="rgb(0,0,0)" fill-opacity="0.700" stroke="rgb(0,0,0)" stroke-opacity="0.700" stroke-width="0.70"/>
<polygon points="99.60,574.40 111.40,574.40 105.50,586.20" fill="rgb(0,0,0)" fill-opacity="0.700" stroke="rgb(0,0,0)" stroke-opacity="0.700" stroke-width="0.70"/>
<circle cx="262.60" cy="417.40" r="5.90" fill="rgb(207,202,83)" fill-opacity="0.750" stroke="rgb(207,202,83)" stroke-opacity="0.750" stroke-width="0.70"/>
<circle cx="309.20" cy="411.80" r="5.90" fill="rgb(207,202,83)" fill-opacity="0.750" stroke="rgb(207,202,83)" stroke-opacity="0.750" stroke-width="0.70"/>
<circle cx="214.00" cy="475.00" r="5.90" fill="rgb(207,202,83)" fill-opacity="0.750" stroke="rgb(207,202,83)" stroke-opacity="0.750" stroke-width="0.70"/>
<circle cx="185.60" cy="470.80" r="5.90" fill="rgb(207,202,83)" fill-opacity="0.750" stroke="rgb(207,202,83)" stroke-opacity="0.750" stroke-width="0.70"/>
<circle cx="128.10" cy="529.50" r="5.90" fill="rgb(207,202,83)" fill-opacity="0.750" stroke="rgb(207,202,83)" stroke-opacity="0.750" stroke-width="0.70"/>
<circle cx="107.10" cy="561.90" r="5.90" fill="rgb(207,202,83)" fill-opacity="0.750" stroke="rgb(207,202,83)" stroke-opacity="0.750" stroke-width="0.70"/>
<circle cx="130.70" cy="573.40" r="5.90" fill="rgb(207,202,83)" fill-opacity="0.750" stroke="rgb(207,202,83)" stroke-opacity="0.750" stroke-width="0.70"/>
<circle cx="137.00" cy="604.00" r="5.90" fill="rgb(207,202,83)" fill-opacity="0.750" stroke="rgb(207,202,83)" stroke-opacity="0.750" stroke-width="0.70"/>
<circle cx="66.50" cy="618.90" r="5.90" fill="rgb(207,202,83)" fill-opacity="0.750" stroke="rgb(207,202,83)" stroke-opacity="0.750" stroke-width="0.70"/>
<rect x="269.60" y="352.40" width="11.80" height="11.80" fill="rgb(208,118,86)" fill-opacity="0.750" stroke="rgb(208,118,86)" stroke-opacity="0.750" stroke-width="0.70"/>
<rect x="300.60" y="347.90" width="11.80" height="11.80" fill="rgb(208,118,86)" fill-opacity="0.750" stroke="rgb(208,118,86)" stroke-opacity="0.750" stroke-width="0.70"/>
<rect x="256.40" y="371.30" width="11.80" height="11.80" fill="rgb(208,118,86)" fill-opacity="0.750" stroke="rgb(208,118,86)" stroke-opacity="0.750" stroke-width="0.70"/>
<rect x="209.80" y="470.60" width="11.80" height="11.80" fill="rgb(208,118,86)" fill-opacity="0.750" stroke="rgb(208,118,86)" stroke-opacity="0.750" stroke-width="0.70"/>
<rect x="177.80" y="538.60" width="11.80" height="11.80" fill="rgb(208,118,86)" fill-opacity="0.750" stroke="rgb(208,118,86)" stroke-opacity="0.750" stroke-width="0.70"/>
<rect x="131.20" y="524.30" width="11.80" height="11.80" fill="rgb(208,118,86)" fill-opacity="0.750" stroke="rgb(208,118,86)" stroke-opacity="0.750" stroke-width="0.70"/>
<rect x="132.00" y="553.80" width="11.80" height="11.80" fill="rgb(208,118,86)" fill-opacity="0.750" stroke="rgb(208,118,86)" stroke-opacity="0.750" stroke-width="0.70"/>
<rect x="109.80" y="543.30" width="11.80" height="11.80" fill="rgb(208,118,86)" fill-opacity="0.750" stroke="rgb(208,118,86)" stroke-opacity="0.750" stroke-width="0.70"/>
<rect x="99.60" y="581.00" width="11.80" height="11.80" fill="rgb(208,118,86)" fill-opacity="0.750" stroke="rgb(208,118,86)" stroke-opacity="0.750" stroke-width="0.70"/>
<rect x="60.10" y="605.90" width="11.80" height="11.80" fill="rgb(208,118,86)" fill-opacity="0.750" stroke="rgb(208,118,86)" stroke-opacity="0.750" stroke-width="0.70"/>
<polygon points="257.80,414.10 251.90,425.90 263.70,425.90" fill="rgb(248,8,15)" fill-opacity="0.750" stroke="rgb(248,8,15)" stroke-opacity="0.750" stroke-width="0.70"/>
<polygon points="304.50,413.10 298.60,424.90 310.40,424.90" fill="rgb(248,8,15)" fill-opacity="0.750" stroke="rgb(248,8,15)" stroke-opacity="0.750" stroke-width="0.70"/>
<polygon points="282.80,426.90 276.90,438.70 288.70,438.70" fill="rgb(248,8,15)" fill-opacity="0.750" stroke="rgb(248,8,15)" stroke-opacity="0.750" stroke-width="0.70"/>
<polygon points="206.20,450.40 200.30,462.20 212.10,462.20" fill="rgb(248,8,15)" fill-opacity="0.750" stroke="rgb(248,8,15)" stroke-opacity="0.750" stroke-width="0.70"/>
<polygon points="181.30,524.70 175.40,536.50 187.20,536.50" fill="rgb(248,8,15)" fill-opacity="0.750" stroke="rgb(248,8,15)" stroke-opacity="0.750" stroke-width="0.70"/>
<polygon points="143.10,521.40 137.20,533.20 149.00,533.20" fill="rgb(248,8,15)" fill-opacity="0.750" stroke="rgb(248,8,15)" stroke-opacity="0.750" stroke-width="0.70"/>
<polygon points="137.10,539.00 131.20,550.80 143.00,550.80" fill="rgb(248,8,15)" fill-opacity="0.750" stroke="rgb(248,8,15)" stroke-opacity="0.750" stroke-width="0.70"/>
<polygon points="119.00,556.40 113.10,568.20 124.90,568.20" fill="rgb(248,8,15)" fill-opacity="0.750" stroke="rgb(248,8,15)" stroke-opacity="0.750" stroke-width="0.70"/>
<polygon points="105.30,595.30 99.40,607.10 111.20,607.10" fill="rgb(248,8,15)" fill-opacity="0.750" stroke="rgb(248,8,15)" stroke-opacity="0.750" stroke-width="0.70"/>
<polygon points="65.20,579.80 59.30,591.60 71.10,591.60" fill="rgb(248,8,15)" fill-opacity="0.750" stroke="rgb(248,8,15)" stroke-opacity="0.750" stroke-width="0.70"/>
<polygon points="257.00,396.46 262.01,404.80 257.00,413.14 251.99,404.80" fill="rgb(102,192,187)" fill-opacity="0.750" stroke="rgb(102,192,187)" stroke-opacity="0.750" stroke-width="0.70"/>
<polygon points="304.60,403.66 309.61,412.00 304.60,420.34 299.59,412.00" fill="rgb(102,192,187)" fill-opacity="0.750" stroke="rgb(102,192,187)" stroke-opacity="0.750" stroke-width="0.70"/>
<polygon points="276.70,442.16 281.71,450.50 276.70,458.84 271.69,450.50" fill="rgb(102,192,187)" fill-opacity="0.750" stroke="rgb(102,192,187)" stroke-opacity="0.750" stroke-width="0.70"/>
<polygon points="213.50,503.26 218.51,511.60 213.50,519.94 208.49,511.60" fill="rgb(102,192,187)" fill-opacity="0.750" stroke="rgb(102,192,187)" stroke-opacity="0.750" stroke-width="0.70"/>
<polygon points="182.10,494.96 187.11,503.30 182.10,511.64 177.09,503.30" fill="rgb(102,192,187)" fill-opacity="0.750" stroke="rgb(102,192,187)" stroke-opacity="0.750" stroke-width="0.70"/>
<polygon points="146.60,516.06 151.61,524.40 146.60,532.74 141.59,524.40" fill="rgb(102,192,187)" fill-opacity="0.750" stroke="rgb(102,192,187)" stroke-opacity="0.750" stroke-width="0.70"/>
<polygon points="136.90,524.06 141.91,532.40 136.90,540.74 131.89,532.40" fill="rgb(102,192,187)" fill-opacity="0.750" stroke="rgb(102,192,187)" stroke-opacity="0.750" stroke-width="0.70"/>
<polygon points="117.90,537.26 122.91,545.60 117.90,553.94 112.89,545.60" fill="rgb(102,192,187)" fill-opacity="0.750" stroke="rgb(102,192,187)" stroke-opacity="0.750" stroke-width="0.70"/>
<polygon points="105.50,560.26 110.51,568.60 105.50,576.94 100.49,568.60" fill="rgb(102,192,187)" fill-opacity="0.750" stroke="rgb(102,192,187)" stroke-opacity="0.750" stroke-width="0.70"/>
<polygon points="64.40,631.16 69.41,639.50 64.40,647.84 59.39,639.50" fill="rgb(102,192,187)" fill-opacity="0.750" stroke="rgb(102,192,187)" stroke-opacity="0.750" stroke-width="0.70"/>
<line x1="37.10" y1="647.35" x2="336.80" y2="348.20" stroke="#484848" stroke-width="0.85" stroke-dasharray="2.5 1.45"/>
</g>
<rect x="150.50" y="571.30" width="181.50" height="71.50" rx="2.5" ry="2.5" fill="#fff" fill-opacity="0.8" stroke="#e4e4e4" stroke-width="1"/>
<polygon points="158.10,573.90 169.90,573.90 164.00,585.70" fill="rgb(0,0,0)" fill-opacity="0.700" stroke="rgb(0,0,0)" stroke-opacity="0.700" stroke-width="0.70"/>
<text class="lg" transform="translate(181.20,582.70) scale(1,1.030)" font-size="9.62">2018 R²: 0.87 RMSE 2.22 MAE: 1.74</text>
<circle cx="164.00" cy="593.50" r="5.90" fill="rgb(207,202,83)" fill-opacity="0.750" stroke="rgb(207,202,83)" stroke-opacity="0.750" stroke-width="0.70"/>
<text class="lg" transform="translate(181.20,596.40) scale(1,1.030)" font-size="9.62">2019 R²: 0.86 RMSE 2.15 MAE: 1.74</text>
<rect x="158.10" y="601.30" width="11.80" height="11.80" fill="rgb(208,118,86)" fill-opacity="0.750" stroke="rgb(208,118,86)" stroke-opacity="0.750" stroke-width="0.70"/>
<text class="lg" transform="translate(181.20,610.10) scale(1,1.030)" font-size="9.62">2020 R²: 0.90 RMSE 2.19 MAE: 1.82</text>
<polygon points="164.00,615.00 158.10,626.80 169.90,626.80" fill="rgb(248,8,15)" fill-opacity="0.750" stroke="rgb(248,8,15)" stroke-opacity="0.750" stroke-width="0.70"/>
<text class="lg" transform="translate(181.20,623.80) scale(1,1.030)" font-size="9.62">2021 R²: 0.87 RMSE 1.81 MAE: 1.57</text>
<polygon points="164.00,626.26 169.01,634.60 164.00,642.94 158.99,634.60" fill="rgb(102,192,187)" fill-opacity="0.750" stroke="rgb(102,192,187)" stroke-opacity="0.750" stroke-width="0.70"/>
<text class="lg" transform="translate(181.20,637.50) scale(1,1.030)" font-size="9.62">2022 R²: 0.86 RMSE 1.93 MAE: 1.68</text>
<path d="M37.00 348.50H337.50M37.50 348.50V648.00M37.00 647.50H337.50" fill="none" stroke="#8a8a8a" stroke-width="1"/>
<line x1="337.00" y1="348.00" x2="337.00" y2="648.00" stroke="#8a8a8a" stroke-width="1"/>
<line x1="50.13" y1="647.50" x2="50.13" y2="649.50" stroke="#8a8a8a" stroke-width="1"/>
<text transform="translate(50.13,663.30) scale(1,1.030)" font-size="17.40" text-anchor="middle">20</text>
<line x1="35.50" y1="634.34" x2="37.50" y2="634.34" stroke="#8a8a8a" stroke-width="1"/>
<text transform="translate(31.60,629.24) rotate(-90) scale(1,1.030)" font-size="17.40" text-anchor="end">20</text>
<line x1="115.28" y1="647.50" x2="115.28" y2="649.50" stroke="#8a8a8a" stroke-width="1"/>
<text transform="translate(115.28,663.30) scale(1,1.030)" font-size="17.40" text-anchor="middle">25</text>
<line x1="35.50" y1="569.31" x2="37.50" y2="569.31" stroke="#8a8a8a" stroke-width="1"/>
<text transform="translate(31.60,564.21) rotate(-90) scale(1,1.030)" font-size="17.40" text-anchor="end">25</text>
<line x1="180.43" y1="647.50" x2="180.43" y2="649.50" stroke="#8a8a8a" stroke-width="1"/>
<text transform="translate(180.43,663.30) scale(1,1.030)" font-size="17.40" text-anchor="middle">30</text>
<line x1="35.50" y1="504.28" x2="37.50" y2="504.28" stroke="#8a8a8a" stroke-width="1"/>
<text transform="translate(31.60,499.18) rotate(-90) scale(1,1.030)" font-size="17.40" text-anchor="end">30</text>
<line x1="245.59" y1="647.50" x2="245.59" y2="649.50" stroke="#8a8a8a" stroke-width="1"/>
<text transform="translate(245.59,663.30) scale(1,1.030)" font-size="17.40" text-anchor="middle">35</text>
<line x1="35.50" y1="439.25" x2="37.50" y2="439.25" stroke="#8a8a8a" stroke-width="1"/>
<text transform="translate(31.60,434.15) rotate(-90) scale(1,1.030)" font-size="17.40" text-anchor="end">35</text>
<line x1="310.74" y1="647.50" x2="310.74" y2="649.50" stroke="#8a8a8a" stroke-width="1"/>
<text transform="translate(310.74,663.30) scale(1,1.030)" font-size="17.40" text-anchor="middle">40</text>
<line x1="35.50" y1="374.21" x2="37.50" y2="374.21" stroke="#8a8a8a" stroke-width="1"/>
<text transform="translate(31.60,369.11) rotate(-90) scale(1,1.030)" font-size="17.40" text-anchor="end">40</text>
<text transform="translate(40.40,370.40) scale(1,1.030)" font-size="17.40">(c)</text>
<g clip-path="url(#clipd)">
<polygon points="635.90,385.20 647.70,385.20 641.80,397.00" fill="rgb(0,0,0)" fill-opacity="0.700" stroke="rgb(0,0,0)" stroke-opacity="0.700" stroke-width="0.70"/>
<polygon points="508.20,522.40 520.00,522.40 514.10,534.20" fill="rgb(0,0,0)" fill-opacity="0.700" stroke="rgb(0,0,0)" stroke-opacity="0.700" stroke-width="0.70"/>
<polygon points="454.60,545.60 466.40,545.60 460.50,557.40" fill="rgb(0,0,0)" fill-opacity="0.700" stroke="rgb(0,0,0)" stroke-opacity="0.700" stroke-width="0.70"/>
<polygon points="486.20,571.30 498.00,571.30 492.10,583.10" fill="rgb(0,0,0)" fill-opacity="0.700" stroke="rgb(0,0,0)" stroke-opacity="0.700" stroke-width="0.70"/>
<polygon points="428.10,581.30 439.90,581.30 434.00,593.10" fill="rgb(0,0,0)" fill-opacity="0.700" stroke="rgb(0,0,0)" stroke-opacity="0.700" stroke-width="0.70"/>
<polygon points="418.50,584.40 430.30,584.40 424.40,596.20" fill="rgb(0,0,0)" fill-opacity="0.700" stroke="rgb(0,0,0)" stroke-opacity="0.700" stroke-width="0.70"/>
<polygon points="383.10,637.60 394.90,637.60 389.00,649.40" fill="rgb(0,0,0)" fill-opacity="0.700" stroke="rgb(0,0,0)" stroke-opacity="0.700" stroke-width="0.70"/>
<circle cx="656.90" cy="416.30" r="5.90" fill="rgb(207,202,83)" fill-opacity="0.750" stroke="rgb(207,202,83)" stroke-opacity="0.750" stroke-width="0.70"/>
<circle cx="521.10" cy="513.00" r="5.90" fill="rgb(207,202,83)" fill-opacity="0.750" stroke="rgb(207,202,83)" stroke-opacity="0.750" stroke-width="0.70"/>
<circle cx="463.80" cy="546.00" r="5.90" fill="rgb(207,202,83)" fill-opacity="0.750" stroke="rgb(207,202,83)" stroke-opacity="0.750" stroke-width="0.70"/>
<circle cx="511.40" cy="565.20" r="5.90" fill="rgb(207,202,83)" fill-opacity="0.750" stroke="rgb(207,202,83)" stroke-opacity="0.750" stroke-width="0.70"/>
<circle cx="437.90" cy="584.50" r="5.90" fill="rgb(207,202,83)" fill-opacity="0.750" stroke="rgb(207,202,83)" stroke-opacity="0.750" stroke-width="0.70"/>
<circle cx="425.00" cy="596.00" r="5.90" fill="rgb(207,202,83)" fill-opacity="0.750" stroke="rgb(207,202,83)" stroke-opacity="0.750" stroke-width="0.70"/>
<circle cx="388.20" cy="630.80" r="5.90" fill="rgb(207,202,83)" fill-opacity="0.750" stroke="rgb(207,202,83)" stroke-opacity="0.750" stroke-width="0.70"/>
<circle cx="407.60" cy="635.90" r="5.90" fill="rgb(207,202,83)" fill-opacity="0.750" stroke="rgb(207,202,83)" stroke-opacity="0.750" stroke-width="0.70"/>
<rect x="657.00" y="373.90" width="11.80" height="11.80" fill="rgb(208,118,86)" fill-opacity="0.750" stroke="rgb(208,118,86)" stroke-opacity="0.750" stroke-width="0.70"/>
<rect x="514.10" y="484.70" width="11.80" height="11.80" fill="rgb(208,118,86)" fill-opacity="0.750" stroke="rgb(208,118,86)" stroke-opacity="0.750" stroke-width="0.70"/>
<rect x="459.10" y="534.80" width="11.80" height="11.80" fill="rgb(208,118,86)" fill-opacity="0.750" stroke="rgb(208,118,86)" stroke-opacity="0.750" stroke-width="0.70"/>
<rect x="434.70" y="571.80" width="11.80" height="11.80" fill="rgb(208,118,86)" fill-opacity="0.750" stroke="rgb(208,118,86)" stroke-opacity="0.750" stroke-width="0.70"/>
<rect x="505.70" y="548.90" width="11.80" height="11.80" fill="rgb(208,118,86)" fill-opacity="0.750" stroke="rgb(208,118,86)" stroke-opacity="0.750" stroke-width="0.70"/>
<rect x="418.30" y="584.00" width="11.80" height="11.80" fill="rgb(208,118,86)" fill-opacity="0.750" stroke="rgb(208,118,86)" stroke-opacity="0.750" stroke-width="0.70"/>
<rect x="395.30" y="597.80" width="11.80" height="11.80" fill="rgb(208,118,86)" fill-opacity="0.750" stroke="rgb(208,118,86)" stroke-opacity="0.750" stroke-width="0.70"/>
<rect x="401.90" y="600.90" width="11.80" height="11.80" fill="rgb(208,118,86)" fill-opacity="0.750" stroke="rgb(208,118,86)" stroke-opacity="0.750" stroke-width="0.70"/>
<rect x="380.10" y="613.10" width="11.80" height="11.80" fill="rgb(208,118,86)" fill-opacity="0.750" stroke="rgb(208,118,86)" stroke-opacity="0.750" stroke-width="0.70"/>
<rect x="389.20" y="639.10" width="11.80" height="11.80" fill="rgb(208,118,86)" fill-opacity="0.750" stroke="rgb(208,118,86)" stroke-opacity="0.750" stroke-width="0.70"/>
<polygon points="662.40,364.90 656.50,376.70 668.30,376.70" fill="rgb(248,8,15)" fill-opacity="0.750" stroke="rgb(248,8,15)" stroke-opacity="0.750" stroke-width="0.70"/>
<polygon points="525.30,516.90 519.40,528.70 531.20,528.70" fill="rgb(248,8,15)" fill-opacity="0.750" stroke="rgb(248,8,15)" stroke-opacity="0.750" stroke-width="0.70"/>
<polygon points="474.50,534.70 468.60,546.50 480.40,546.50" fill="rgb(248,8,15)" fill-opacity="0.750" stroke="rgb(248,8,15)" stroke-opacity="0.750" stroke-width="0.70"/>
<polygon points="466.80,552.20 460.90,564.00 472.70,564.00" fill="rgb(248,8,15)" fill-opacity="0.750" stroke="rgb(248,8,15)" stroke-opacity="0.750" stroke-width="0.70"/>
<polygon points="441.10,571.10 435.20,582.90 447.00,582.90" fill="rgb(248,8,15)" fill-opacity="0.750" stroke="rgb(248,8,15)" stroke-opacity="0.750" stroke-width="0.70"/>
<polygon points="424.20,595.40 418.30,607.20 430.10,607.20" fill="rgb(248,8,15)" fill-opacity="0.750" stroke="rgb(248,8,15)" stroke-opacity="0.750" stroke-width="0.70"/>
<polygon points="408.50,611.30 402.60,623.10 414.40,623.10" fill="rgb(248,8,15)" fill-opacity="0.750" stroke="rgb(248,8,15)" stroke-opacity="0.750" stroke-width="0.70"/>
<polygon points="400.20,611.70 394.30,623.50 406.10,623.50" fill="rgb(248,8,15)" fill-opacity="0.750" stroke="rgb(248,8,15)" stroke-opacity="0.750" stroke-width="0.70"/>
<polygon points="387.30,633.10 381.40,644.90 393.20,644.90" fill="rgb(248,8,15)" fill-opacity="0.750" stroke="rgb(248,8,15)" stroke-opacity="0.750" stroke-width="0.70"/>
<polygon points="397.00,636.10 391.10,647.90 402.90,647.90" fill="rgb(248,8,15)" fill-opacity="0.750" stroke="rgb(248,8,15)" stroke-opacity="0.750" stroke-width="0.70"/>
<polygon points="525.00,471.36 530.01,479.70 525.00,488.04 519.99,479.70" fill="rgb(102,192,187)" fill-opacity="0.750" stroke="rgb(102,192,187)" stroke-opacity="0.750" stroke-width="0.70"/>
<polygon points="424.40,520.56 429.41,528.90 424.40,537.24 419.39,528.90" fill="rgb(102,192,187)" fill-opacity="0.750" stroke="rgb(102,192,187)" stroke-opacity="0.750" stroke-width="0.70"/>
<polygon points="474.00,529.76 479.01,538.10 474.00,546.44 468.99,538.10" fill="rgb(102,192,187)" fill-opacity="0.750" stroke="rgb(102,192,187)" stroke-opacity="0.750" stroke-width="0.70"/>
<polygon points="466.80,541.46 471.81,549.80 466.80,558.14 461.79,549.80" fill="rgb(102,192,187)" fill-opacity="0.750" stroke="rgb(102,192,187)" stroke-opacity="0.750" stroke-width="0.70"/>
<polygon points="441.40,554.16 446.41,562.50 441.40,570.84 436.39,562.50" fill="rgb(102,192,187)" fill-opacity="0.750" stroke="rgb(102,192,187)" stroke-opacity="0.750" stroke-width="0.70"/>
<polygon points="410.20,598.16 415.21,606.50 410.20,614.84 405.19,606.50" fill="rgb(102,192,187)" fill-opacity="0.750" stroke="rgb(102,192,187)" stroke-opacity="0.750" stroke-width="0.70"/>
<polygon points="401.70,607.86 406.71,616.20 401.70,624.54 396.69,616.20" fill="rgb(102,192,187)" fill-opacity="0.750" stroke="rgb(102,192,187)" stroke-opacity="0.750" stroke-width="0.70"/>
<polygon points="387.60,611.86 392.61,620.20 387.60,628.54 382.59,620.20" fill="rgb(102,192,187)" fill-opacity="0.750" stroke="rgb(102,192,187)" stroke-opacity="0.750" stroke-width="0.70"/>
<polygon points="396.00,629.96 401.01,638.30 396.00,646.64 390.99,638.30" fill="rgb(102,192,187)" fill-opacity="0.750" stroke="rgb(102,192,187)" stroke-opacity="0.750" stroke-width="0.70"/>
<line x1="366.30" y1="647.35" x2="684.20" y2="348.20" stroke="#484848" stroke-width="0.85" stroke-dasharray="2.5 1.45"/>
</g>
<rect x="495.40" y="571.30" width="184.00" height="71.50" rx="2.5" ry="2.5" fill="#fff" fill-opacity="0.8" stroke="#e4e4e4" stroke-width="1"/>
<polygon points="502.60,573.90 514.40,573.90 508.50,585.70" fill="rgb(0,0,0)" fill-opacity="0.700" stroke="rgb(0,0,0)" stroke-opacity="0.700" stroke-width="0.70"/>
<text class="lg" transform="translate(525.90,582.70) scale(1,1.030)" font-size="9.62">2018 R²: 0.93 RMSE: 6.85 MAE: 4.13</text>
<circle cx="508.50" cy="593.50" r="5.90" fill="rgb(207,202,83)" fill-opacity="0.750" stroke="rgb(207,202,83)" stroke-opacity="0.750" stroke-width="0.70"/>
<text class="lg" transform="translate(525.90,596.40) scale(1,1.030)" font-size="9.62">2019 R²: 0.85 RMSE: 9.93 MAE: 7.30</text>
<rect x="502.60" y="601.30" width="11.80" height="11.80" fill="rgb(208,118,86)" fill-opacity="0.750" stroke="rgb(208,118,86)" stroke-opacity="0.750" stroke-width="0.70"/>
<text class="lg" transform="translate(525.90,610.10) scale(1,1.030)" font-size="9.62">2020 R²: 0.94 RMSE: 6.71 MAE: 4.95</text>
<polygon points="508.50,615.00 502.60,626.80 514.40,626.80" fill="rgb(248,8,15)" fill-opacity="0.750" stroke="rgb(248,8,15)" stroke-opacity="0.750" stroke-width="0.70"/>
<text class="lg" transform="translate(525.90,623.80) scale(1,1.030)" font-size="9.62">2021 R²: 0.97 RMSE: 4.65 MAE: 3.40</text>
<polygon points="508.50,626.26 513.51,634.60 508.50,642.94 503.49,634.60" fill="rgb(102,192,187)" fill-opacity="0.750" stroke="rgb(102,192,187)" stroke-opacity="0.750" stroke-width="0.70"/>
<text class="lg" transform="translate(525.90,637.50) scale(1,1.030)" font-size="9.62">2022 R²: 0.91 RMSE: 9.43 MAE: 6.41</text>
<path d="M366.00 348.50H684.50M366.50 348.50V648.00M366.00 647.50H684.50" fill="none" stroke="#8a8a8a" stroke-width="1"/>
<line x1="684.50" y1="348.00" x2="684.50" y2="648.00" stroke="#a2a2a2" stroke-width="1"/>
<line x1="371.98" y1="647.50" x2="371.98" y2="649.50" stroke="#8a8a8a" stroke-width="1"/>
<text transform="translate(371.98,663.30) scale(1,1.030)" font-size="17.40" text-anchor="middle">40</text>
<line x1="364.50" y1="642.01" x2="366.50" y2="642.01" stroke="#8a8a8a" stroke-width="1"/>
<text transform="translate(360.60,636.91) rotate(-90) scale(1,1.030)" font-size="17.40" text-anchor="end">40</text>
<line x1="485.51" y1="647.50" x2="485.51" y2="649.50" stroke="#8a8a8a" stroke-width="1"/>
<text transform="translate(485.51,663.30) scale(1,1.030)" font-size="17.40" text-anchor="middle">80</text>
<line x1="364.50" y1="535.17" x2="366.50" y2="535.17" stroke="#8a8a8a" stroke-width="1"/>
<text transform="translate(360.60,530.07) rotate(-90) scale(1,1.030)" font-size="17.40" text-anchor="end">80</text>
<line x1="599.05" y1="647.50" x2="599.05" y2="649.50" stroke="#8a8a8a" stroke-width="1"/>
<text transform="translate(599.05,663.30) scale(1,1.030)" font-size="17.40" text-anchor="middle">120</text>
<line x1="364.50" y1="428.33" x2="366.50" y2="428.33" stroke="#8a8a8a" stroke-width="1"/>
<text transform="translate(360.60,423.23) rotate(-90) scale(1,1.030)" font-size="17.40" text-anchor="end">120</text>
<text transform="translate(372.30,368.50) scale(1,1.030)" font-size="17.40">(d)</text>
<text transform="translate(13.20,159.50) rotate(-90) scale(1,1.030)" font-size="17.40" text-anchor="middle">Estimated planted area(1000ha)</text>
<text transform="translate(13.20,497.60) rotate(-90) scale(1,1.030)" font-size="17.40" text-anchor="middle">Estimated planted area(1000ha)</text>
<text transform="translate(187.30,681.50) scale(1,1.030)" font-size="17.40" text-anchor="middle">Statistical planted area(1000ha)</text>
<text transform="translate(525.30,681.50) scale(1,1.030)" font-size="17.40" text-anchor="middle">Statistical planted area(1000ha)</text>
</svg>
</body></html>
